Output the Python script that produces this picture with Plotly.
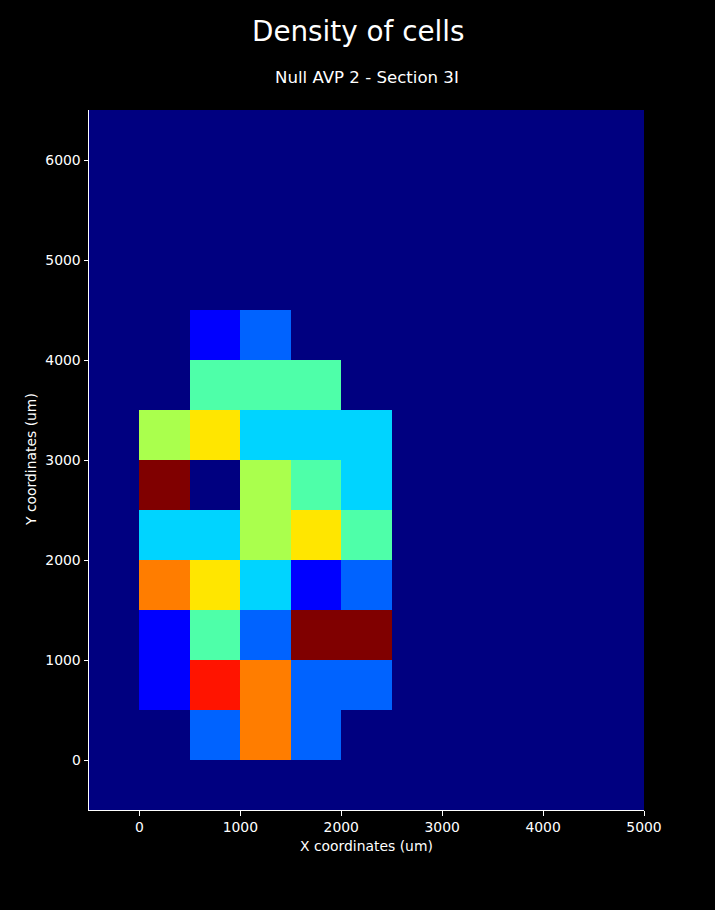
import numpy as np
import plotly.graph_objects as go

# Bin centres (um) of the full histogram grid
x_centers = [-250, 250, 750, 1250, 1750, 2250, 2750, 3250, 3750, 4250, 4750]
y_centers = [-250, 250, 750, 1250, 1750, 2250, 2750, 3250, 3750, 4250, 4750, 5250, 5750, 6250]

# Occupied region: columns x = 250..2250, rows y = 250..4250
occ_x = [250, 750, 1250, 1750, 2250]
occ_y = [250, 750, 1250, 1750, 2250, 2750, 3250, 3750, 4250]
counts = [
    [0, 2, 7, 2, 0],
    [1, 8, 7, 2, 2],
    [1, 4, 2, 9, 9],
    [7, 6, 3, 1, 2],
    [3, 3, 5, 6, 4],
    [9, 0, 5, 4, 3],
    [5, 6, 3, 3, 3],
    [0, 4, 4, 4, 0],
    [0, 1, 2, 0, 0],
]

x_ticks = [0, 1000, 2000, 3000, 4000, 5000]
y_ticks = [0, 1000, 2000, 3000, 4000, 5000, 6000]

z = np.zeros((len(y_centers), len(x_centers)))
for i, yv in enumerate(occ_y):
    for j, xv in enumerate(occ_x):
        z[y_centers.index(yv), x_centers.index(xv)] = counts[i][j]

# matplotlib 'jet' colormap as a plotly colorscale
def _seg(x, pts):
    for (x0, v0), (x1, v1) in zip(pts[:-1], pts[1:]):
        if x0 <= x <= x1:
            return v0 if x1 == x0 else v0 + (v1 - v0) * (x - x0) / (x1 - x0)
    return pts[-1][1]

R = [(0, 0), (0.35, 0), (0.66, 1), (0.89, 1), (1, 0.5)]
G = [(0, 0), (0.125, 0), (0.375, 1), (0.64, 1), (0.91, 0), (1, 0)]
B = [(0, 0.5), (0.11, 1), (0.34, 1), (0.65, 0), (1, 0)]
stops = sorted(set([p[0] for p in R + G + B]))
jet = [[s, "rgb(%d,%d,%d)" % (round(255 * _seg(s, R)), round(255 * _seg(s, G)), round(255 * _seg(s, B)))] for s in stops]

fig = go.Figure(go.Heatmap(
    x=x_centers, y=y_centers, z=z,
    colorscale=jet, zmin=0, zmax=9, showscale=False,
))

FONT = "DejaVu Sans"
fig.update_layout(
    width=715, height=910,
    paper_bgcolor="black", plot_bgcolor="black",
    margin=dict(l=89, r=71, t=110, b=100),
    font=dict(family=FONT, color="white", size=13.9),
    showlegend=False,
    annotations=[
        dict(text="Density of cells", xref="paper", yref="paper", x=(357.5 - 89) / 555, y=(810 - 31) / 700,
             xanchor="center", yanchor="middle", showarrow=False, font=dict(size=27.8, color="white", family=FONT)),
        dict(text="Null AVP 2 - Section 3I", xref="paper", yref="paper", x=0.5, y=(810 - 78) / 700,
             xanchor="center", yanchor="middle", showarrow=False, font=dict(size=16.6, color="white", family=FONT)),
        dict(text="X coordinates (um)", xref="paper", yref="paper", x=0.5, y=(810 - 846) / 700,
             xanchor="center", yanchor="middle", showarrow=False, font=dict(size=13.9, color="white", family=FONT)),
        dict(text="Y coordinates (um)", xref="paper", yref="paper", x=(31 - 89) / 555, y=0.5,
             xanchor="center", yanchor="middle", textangle=-90, showarrow=False,
             font=dict(size=13.9, color="white", family=FONT)),
    ],
)
fig.update_xaxes(range=[-500, 5000], tickvals=x_ticks, ticks="outside", ticklen=4.5, tickcolor="white",
                 showline=True, linecolor="white", linewidth=1, showgrid=False, zeroline=False,
                 tickfont=dict(size=13.9, color="white"))
fig.update_yaxes(range=[-500, 6500], tickvals=y_ticks, ticks="outside", ticklen=4.5, tickcolor="white",
                 showline=True, linecolor="white", linewidth=1, showgrid=False, zeroline=False,
                 tickfont=dict(size=13.9, color="white"))

fig.write_html("out.html", config={"displayModeBar": False},
               post_script="document.body.style.margin='0';document.body.style.background='black';")
